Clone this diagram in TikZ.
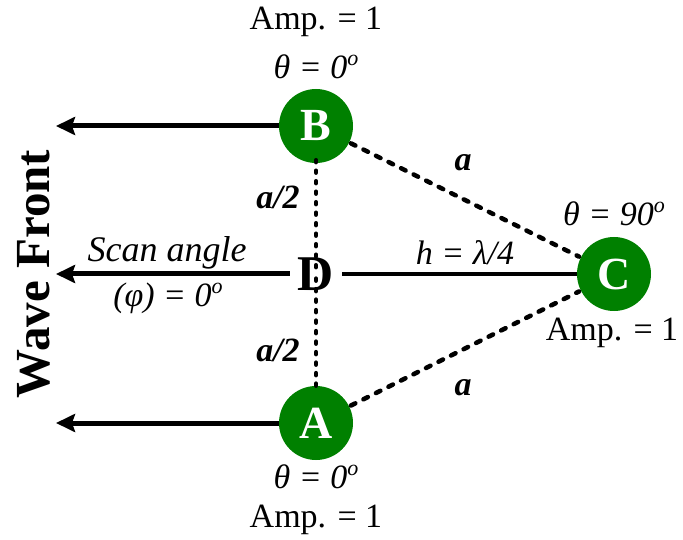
\documentclass[tikz,border=0pt]{standalone}
\usepackage{fontspec}
\setmainfont{Liberation Serif}
\usetikzlibrary{arrows.meta,calc}
\definecolor{nodegreen}{RGB}{0,128,0}
\newcommand{\supo}{\raisebox{13pt}{\fontsize{22}{22}\selectfont o}}
\tikzset{
  elem/.style={circle, fill=nodegreen, minimum size=74pt, inner sep=0pt, text=white, font=\fontsize{46}{46}\selectfont\bfseries},
  lbl/.style={font=\fontsize{34}{34}\selectfont, inner sep=0pt},
  ilbl/.style={font=\fontsize{34}{34}\selectfont\itshape, inner sep=0pt},
  bilbl/.style={font=\fontsize{34}{34}\selectfont\bfseries\itshape, inner sep=0pt},
  wave/.style={line width=5pt, -{Stealth[length=19pt,width=18pt,inset=3pt]}},
  vdots/.style={line width=4.5pt, line cap=round, dash pattern=on 2pt off 8.5pt},
  ddots/.style={line width=4.5pt, line cap=round, dash pattern=on 5pt off 9pt},
}
\begin{document}
\begin{tikzpicture}[x=1pt,y=-1pt]
\useasboundingbox (0,0) rectangle (683,540);
\node[elem] (B) at (316,126) {B};
\node[elem] (A) at (316,423) {A};
\node[elem] (C) at (614,274) {C};
\node[font=\fontsize{50}{50}\selectfont\bfseries, inner sep=0pt] (D) at (316,274) {D};
\coordinate (tB) at (56,126);
\coordinate (tD) at (56,274);
\coordinate (tA) at (56,423);
\draw[wave] (B.west) -- (tB);
\draw[wave] (A.west) -- (tA);
\draw[wave] ([xshift=-8pt]D.west) -- (tD);
\draw[line width=4.5pt] ([xshift=8pt]D.east) -- (C.west);
\draw[vdots] ([yshift=3pt]B.south) -- ([yshift=-12pt]D.north);
\draw[vdots] ([yshift=12pt]D.south) -- ([yshift=-3pt]A.north);
\draw[ddots] ($(B)!39pt!(C)$) -- ($(C)!39pt!(B)$);
\draw[ddots] ($(A)!39pt!(C)$) -- ($(C)!39pt!(A)$);
\node[rotate=90, font=\fontsize{49}{49}\selectfont\bfseries, inner sep=0pt] (wf) at (34,274) {Wave Front};
\node[lbl] (ampB) at (316,22) {Amp. = 1};
\node[ilbl] (thB) at (316,67) {θ = 0\supo};
\node[lbl] (ampA) at (316,520) {Amp. = 1};
\node[ilbl] (thA) at (316,477) {θ = 0\supo};
\node[lbl] (ampC) at (612,333) {Amp. = 1};
\node[ilbl] (thC) at (614,214) {θ = 90\supo};
\node[ilbl] (h) at (465,253) {h = λ/4};
\node[ilbl] (scan) at (167,253) {\fontsize{36}{36}\selectfont Scan angle};
\node[ilbl] (phi) at (168,298) {(φ) = 0\supo};
\node[bilbl] (a2u) at (278,197) {a/2};
\node[bilbl] (a2l) at (278,350) {a/2};
\node[bilbl] (au) at (463,163) {a};
\node[bilbl] (al) at (463,388) {a};
\end{tikzpicture}
\end{document}
